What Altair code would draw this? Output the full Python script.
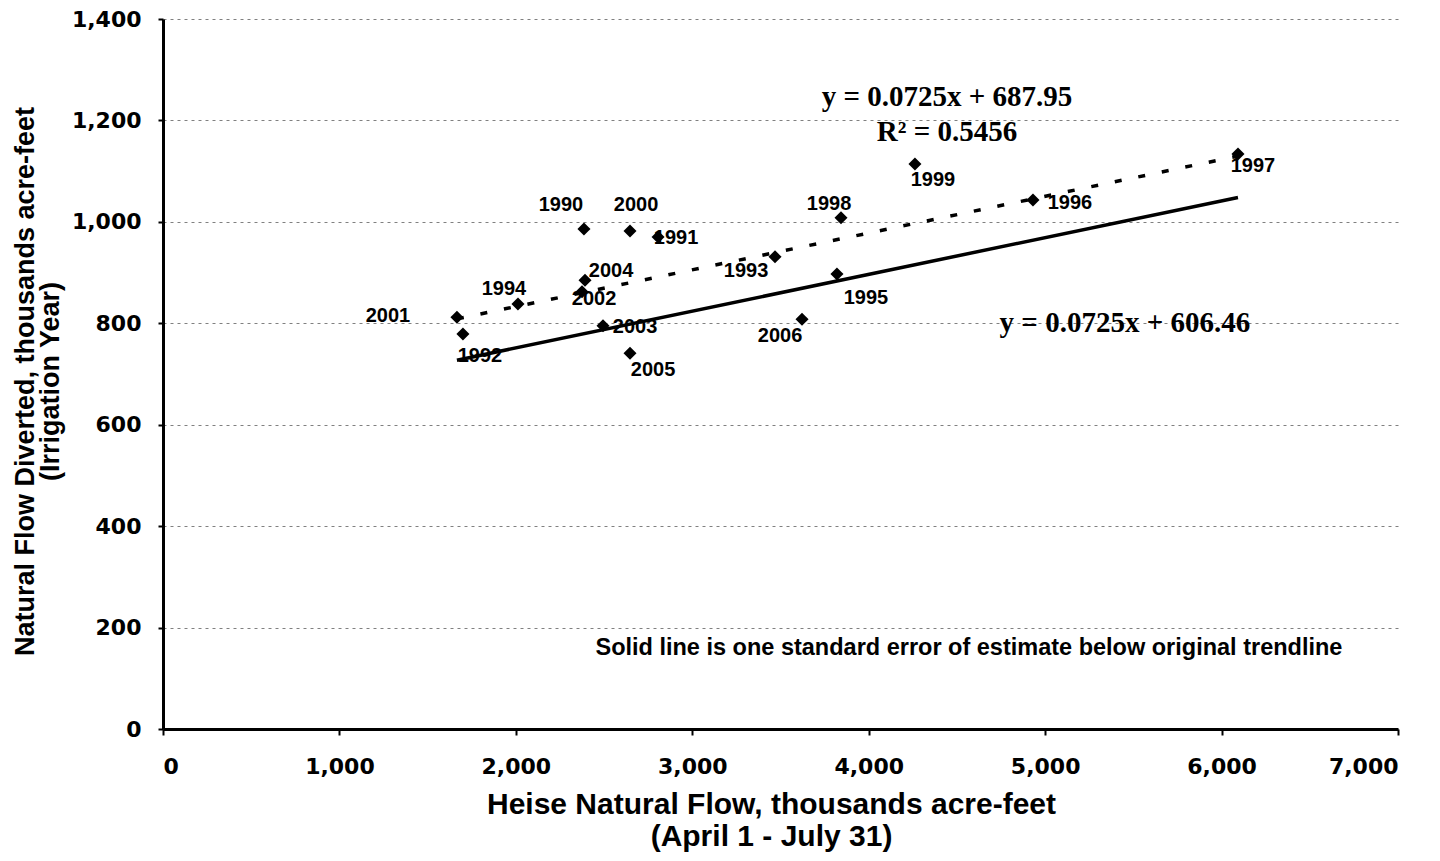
import altair as alt
import pandas as pd

# ---- data ----
years = ["1990", "1991", "1992", "1993", "1994", "1995", "1996", "1997", "1998",
         "1999", "2000", "2001", "2002", "2003", "2004", "2005", "2006"]
heise = [2386, 2806, 1700, 3469, 2012, 3820, 4931, 6093, 3843,
         4262, 2647, 1666, 2375, 2494, 2392, 2647, 3622]
diverted = [986, 970, 779, 931, 838, 897, 1043, 1134, 1008,
            1114, 982, 812, 862, 795, 885, 741, 808]

slope = 0.0725
intercept_trend = 687.95
intercept_low = 606.46
r_squared = 0.5456

x_ticks = [0, 1000, 2000, 3000, 4000, 5000, 6000, 7000]
y_ticks = [0, 200, 400, 600, 800, 1000, 1200, 1400]

# label placement (pixel offsets from each point) - styling only
label_offsets = {
    "1990": (-23, -24), "1991": (18, 1), "1992": (17, 22), "1993": (-29, 14),
    "1994": (-14, -15), "1995": (29, 24), "1996": (37, 3), "1997": (15, 12),
    "1998": (-12, -14), "1999": (18, 16), "2000": (6, -26), "2001": (-69, -1),
    "2002": (12, 7), "2003": (32, 1), "2004": (26, -9), "2005": (23, 17),
    "2006": (-22, 17),
}

df = pd.DataFrame({"year": years, "heise": heise, "diverted": diverted})

xmin, xmax = min(heise), max(heise)
trend = pd.DataFrame({"heise": [xmin, xmax],
                      "diverted": [slope * xmin + intercept_trend, slope * xmax + intercept_trend]})
low = pd.DataFrame({"heise": [xmin, xmax],
                    "diverted": [slope * xmin + intercept_low, slope * xmax + intercept_low]})

eq1 = f"y = {slope}x + {intercept_trend}"
eq2 = f"y = {slope}x + {intercept_low}"
r2 = f"R\u00b2 = {r_squared}"
note = "Solid line is one standard error of estimate below original trendline"

annot_eq = pd.DataFrame({"heise": [4444, 4444, 5452],
                         "diverted": [1246, 1177, 801],
                         "text": [eq1, r2, eq2]})
annot_note = pd.DataFrame({"heise": [4568], "diverted": [160], "text": [note]})

x_scale = alt.Scale(domain=[0, 7000], nice=False, zero=True)
y_scale = alt.Scale(domain=[0, 1400], nice=False, zero=True)

x_axis = alt.Axis(
    values=x_ticks, format=",d", grid=False,
    tickSize=6, tickWidth=2, tickColor="black",
    domainWidth=3, domainColor="black",
    labelFont="DejaVu Sans", labelFontWeight="bold", labelFontSize=22,
    labelColor="black", labelPadding=21,
    title=["Heise Natural Flow, thousands acre-feet", "(April 1 - July 31)"],
    titleFont="Liberation Sans", titleFontWeight="bold", titleFontSize=30,
    titleColor="black", titleX=608, titleY=84, titleAlign="center",
    titleBaseline="alphabetic", titleLineHeight=32,
)
y_axis = alt.Axis(
    values=y_ticks, format=",d", grid=True,
    gridColor="#808080", gridDash=[3, 4], gridWidth=1,
    tickSize=5, tickWidth=2, tickColor="black",
    domainWidth=3, domainColor="black",
    labelFont="DejaVu Sans", labelFontWeight="bold", labelFontSize=22,
    labelColor="black", labelPadding=17,
    title=["Natural Flow Diverted, thousands acre-feet", "(Irrigation Year)"],
    titleFont="Liberation Sans", titleFontWeight="bold", titleFontSize=27,
    titleColor="black", titleAngle=-90, titleX=-130, titleY=362,
    titleAlign="center", titleBaseline="alphabetic", titleLineHeight=25,
)

base_x = alt.X("heise:Q", scale=x_scale, axis=x_axis)
base_y = alt.Y("diverted:Q", scale=y_scale, axis=y_axis)

trend_line = alt.Chart(trend).mark_line(
    color="black", strokeWidth=3.5, strokeDash=[7, 17]
).encode(x=base_x, y=base_y)

low_line = alt.Chart(low).mark_line(color="black", strokeWidth=3.5).encode(
    x=alt.X("heise:Q", scale=x_scale), y=alt.Y("diverted:Q", scale=y_scale))

points = alt.Chart(df).mark_point(
    shape="diamond", filled=True, color="black", size=170, opacity=1
).encode(x=alt.X("heise:Q", scale=x_scale), y=alt.Y("diverted:Q", scale=y_scale))

label_layers = []
for yr in years:
    dx, dy = label_offsets[yr]
    label_layers.append(
        alt.Chart(df).transform_filter(alt.datum.year == yr).mark_text(
            font="Liberation Sans", fontWeight="bold", fontSize=20, color="black",
            align="center", baseline="middle", dx=dx, dy=dy
        ).encode(x=alt.X("heise:Q", scale=x_scale),
                 y=alt.Y("diverted:Q", scale=y_scale),
                 text="year:N")
    )

eq_text = alt.Chart(annot_eq).mark_text(
    font="Liberation Serif", fontWeight="bold", fontSize=29, color="black",
    align="center", baseline="middle"
).encode(x=alt.X("heise:Q", scale=x_scale), y=alt.Y("diverted:Q", scale=y_scale), text="text:N")

note_text = alt.Chart(annot_note).mark_text(
    font="Liberation Sans", fontWeight="bold", fontSize=23.5, color="black",
    align="center", baseline="middle"
).encode(x=alt.X("heise:Q", scale=x_scale), y=alt.Y("diverted:Q", scale=y_scale), text="text:N")

chart = alt.layer(
    trend_line, low_line, *label_layers, points, eq_text, note_text
).properties(
    width=1235, height=710,
    autosize=alt.AutoSizeParams(type="none"),
    padding={"left": 155, "top": 11, "right": 34, "bottom": 124},
    background="white",
).configure_view(stroke=None)

chart.save("out.html", embed_options={"renderer": "svg", "actions": False})
